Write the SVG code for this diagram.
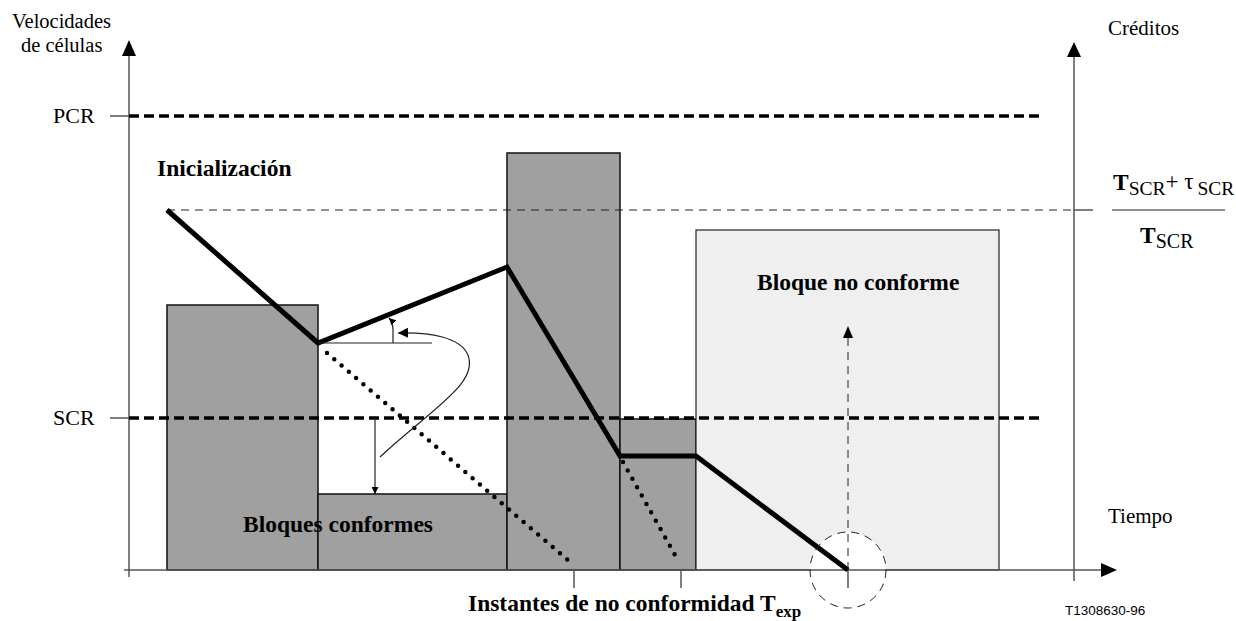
<svg xmlns="http://www.w3.org/2000/svg" width="1236" height="621" viewBox="0 0 1236 621">
<style>
.t{font-family:"Liberation Serif","Times New Roman",Times,"DejaVu Serif",serif;fill:#000}
.b{font-weight:bold}
.ax{stroke:#555;stroke-width:1.5;fill:none}
.thin{stroke:#222;stroke-width:1.2;fill:none}
.bar{fill:#a0a0a0;stroke:#111;stroke-width:1.5}
.lbar{fill:#efefef;stroke:#222;stroke-width:1.2}
.thick{stroke:#000;stroke-width:5;fill:none;stroke-linejoin:miter}
.dash{stroke:#000;stroke-width:3.5;stroke-dasharray:10 5;fill:none}
.tdash{stroke:#222;stroke-width:1;stroke-dasharray:8 6;fill:none}
.dot{stroke:#000;stroke-width:4.5;stroke-linecap:round;stroke-dasharray:0 9.6;fill:none}
</style>
<defs>
<marker id="ah" viewBox="0 0 10 10" refX="10" refY="5" markerWidth="10" markerHeight="10" markerUnits="userSpaceOnUse" orient="auto"><path d="M0,0 L10,5 L0,10 Z" fill="#000"/></marker>
<marker id="ahs" viewBox="0 0 10 10" refX="10" refY="5" markerWidth="7" markerHeight="7" markerUnits="userSpaceOnUse" orient="auto"><path d="M0,0 L10,5 L0,10 Z" fill="#000"/></marker>
</defs>

<g id="bars">
<rect id="bar1" class="bar" x="167" y="305" width="151" height="265"/>
<rect id="bar2" class="bar" x="318" y="494" width="189" height="76"/>
<rect id="bar3" class="bar" x="507" y="153" width="113" height="417"/>
<rect id="bar4" class="bar" x="620" y="419" width="76" height="151"/>
<rect id="bar5" class="lbar" x="696" y="230" width="303" height="340"/>
<ellipse cx="848" cy="570" rx="38" ry="38" fill="#fff" stroke="none"/>
</g>

<g id="axes">
<line class="ax" x1="129" y1="54" x2="129" y2="577"/>
<path d="M129,40 L122,56 L136,56 Z" fill="#000"/>
<line class="ax" x1="124" y1="570" x2="1102" y2="570"/>
<path d="M1117,570 L1101,563 L1101,577 Z" fill="#000"/>
<line class="ax" x1="1074" y1="54" x2="1074" y2="581"/>
<path d="M1074,42 L1067,57 L1081,57 Z" fill="#000"/>
<line class="ax" x1="110" y1="116" x2="129" y2="116"/>
<line class="ax" x1="110" y1="418" x2="129" y2="418"/>
<line class="ax" x1="1074" y1="210" x2="1093" y2="210"/>
<line class="ax" x1="574" y1="570" x2="574" y2="588"/>
<line class="ax" x1="681" y1="570" x2="681" y2="588"/>
<line class="ax" x1="848" y1="570" x2="848" y2="588"/>
</g>

<g id="levels">
<line class="dash" x1="129" y1="116" x2="1040" y2="116"/>
<line class="dash" x1="129" y1="418" x2="1040" y2="418"/>
<line class="tdash" x1="167" y1="210" x2="1074" y2="210"/>
</g>

<g id="connectors">
<polyline class="thick" points="167,210 318,343 507,267 620,456 696,456 848,570"/>
<line class="dot" x1="327" y1="353" x2="569" y2="561"/>
<line class="dot" x1="623" y1="462" x2="679" y2="562"/>
<line class="thin" x1="318" y1="343" x2="432" y2="343"/>
<path class="thin" d="M393,343 L393,330 Q393,322 389,318" marker-end="url(#ahs)"/>
<path class="thin" d="M380,457 C430,410 482,382 467,353 C459,338 432,332 398,333" marker-end="url(#ah)"/>
<line class="thin" x1="375" y1="418" x2="375" y2="494" marker-end="url(#ahs)"/>
<line class="tdash" x1="848" y1="570" x2="848" y2="337"/>
<path d="M848,326 L843,338 L853,338 Z" fill="#000"/>
<ellipse cx="848" cy="570" rx="38" ry="38" class="tdash"/>
</g>

<g id="labels">
<text class="t" x="12" y="28" font-size="20.5">Velocidades</text>
<text class="t" x="21" y="52" font-size="20.5">de células</text>
<text class="t" x="1108" y="35" font-size="21">Créditos</text>
<text class="t" x="53" y="123" font-size="22">PCR</text>
<text class="t" x="53" y="425" font-size="22">SCR</text>
<text class="t b" x="157" y="176" font-size="23.5">Inicialización</text>
<text class="t b" x="757" y="290" font-size="23.5">Bloque no conforme</text>
<text class="t b" x="243" y="532" font-size="23.5">Bloques conformes</text>
<text class="t" x="1108" y="523" font-size="21">Tiempo</text>
<text class="t b" x="468" y="611" font-size="23.5">Instantes de no conformidad T<tspan font-size="17" dy="6">exp</tspan></text>
<text x="1065" y="615" font-family="Liberation Sans, Arial, sans-serif" font-size="13.5" fill="#000">T1308630-96</text>
<text class="t" x="1113" y="190" font-size="19.5"><tspan font-weight="bold" font-size="23.5">T</tspan><tspan dy="5">SCR</tspan><tspan dy="-6" font-size="23">+ τ</tspan><tspan dy="6" dx="4">SCR</tspan></text>
<line x1="1112" y1="210" x2="1225" y2="210" stroke="#222" stroke-width="1.2"/>
<text class="t" x="1140" y="243" font-size="20"><tspan font-weight="bold" font-size="23.5">T</tspan><tspan dy="5">SCR</tspan></text>
</g>
</svg>
